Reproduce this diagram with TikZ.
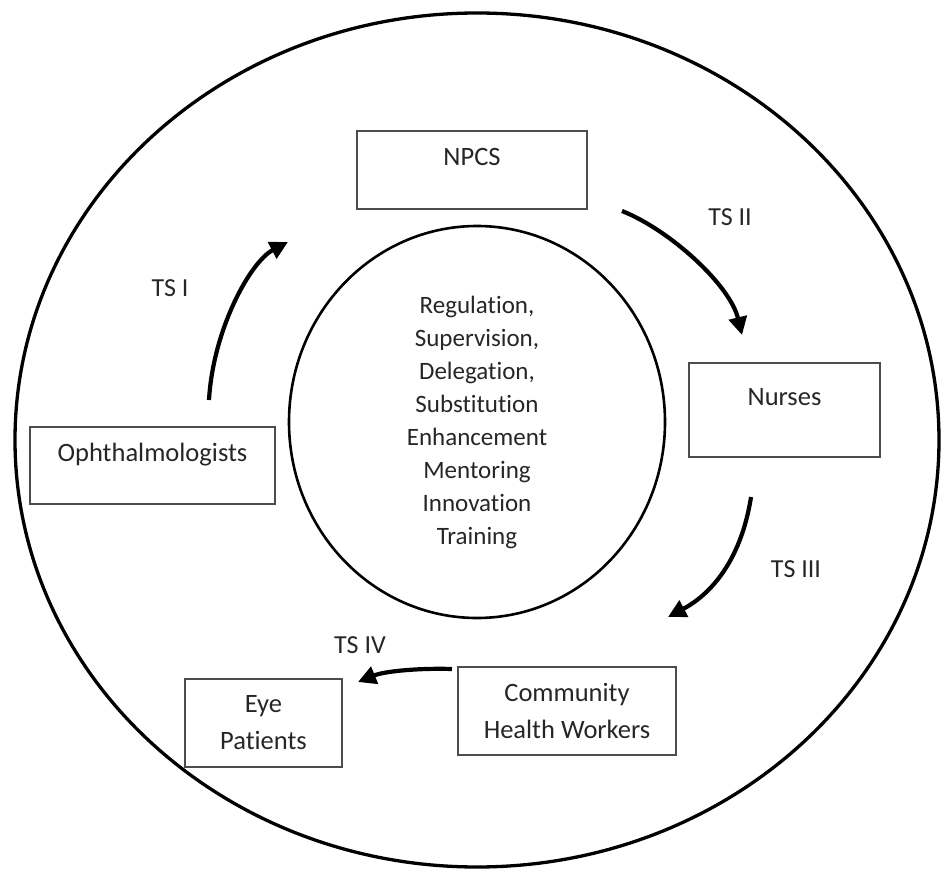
\documentclass[tikz,border=0pt]{standalone}
\usepackage{fontspec}
\setmainfont{Carlito}[Ligatures=NoCommon]
\usetikzlibrary{arrows.meta,positioning,shapes.geometric}

\begin{document}
\begin{tikzpicture}[x=1pt,y=-1pt,
  box/.style={draw=black!70, line width=1.4pt, inner sep=0pt, text=black!85,
    font=\fontsize{26.5}{37}\selectfont},
  tsarrow/.style={line width=4.2pt, -{Triangle[length=18pt,width=18pt]}},
  tslabel/.style={text=black!85, font=\fontsize{26}{30}\selectfont}]
\useasboundingbox (0,0) rectangle (943,869);
% outer ring
\draw[line width=3.3pt] (477,440) ellipse [x radius=462, y radius=427];
% centre
\node[ellipse, draw, line width=2.6pt, inner sep=0pt, minimum width=376pt, minimum height=392pt,
  align=center, text=black!85, font=\fontsize{25}{33}\selectfont] (core) at (477,422)
  {Regulation,\\Supervision,\\Delegation,\\Substitution\\Enhancement\\Mentoring\\Innovation\\Training};
% boxes
\node[box, anchor=base, minimum width=230pt, text height=34.5pt, text depth=43.5pt] (npcs) at (472,165.5) {NPCS};
\node[box, anchor=base, minimum width=191pt, text height=42pt, text depth=52pt] (nurses) at (784.5,405) {Nurses};
\node[box, anchor=base, minimum width=245pt, text height=34.5pt, text depth=42.5pt] (oph) at (152.5,461.5) {Ophthalmologists};
\node[box, align=center, minimum width=218pt, minimum height=88pt] (chw) at (567,711) {Community\\Health Workers};
\node[box, align=center, minimum width=157pt, minimum height=88pt] (eye) at (263.5,723) {Eye\\Patients};
% arrow ends
\coordinate (ts1s) at (209,400);
\coordinate (ts1e) at (288,242);
\coordinate (ts2s) at (622,211);
\coordinate (ts2e) at (742,335);
\coordinate (ts3s) at (751,497);
\coordinate (ts3e) at (668,617);
\coordinate (ts4s) at (452,669);
\coordinate (ts4e) at (358,682);
\draw[tsarrow] (ts1s) .. controls (213,330) and (250,262) .. (ts1e);
\draw[tsarrow] (ts2s) .. controls (670,230) and (730,285) .. (ts2e);
\draw[tsarrow] (ts3s) .. controls (742,555) and (715,592) .. (ts3e);
\draw[tsarrow] (ts4s) .. controls (420,668) and (385,671) .. (ts4e);
% labels
\node[tslabel] (l1) at (170,288) {TS I};
\node[tslabel] (l2) at (730,217) {TS II};
\node[tslabel] (l3) at (796,569) {TS III};
\node[tslabel] (l4) at (360,645) {TS IV};
\end{tikzpicture}
\end{document}
